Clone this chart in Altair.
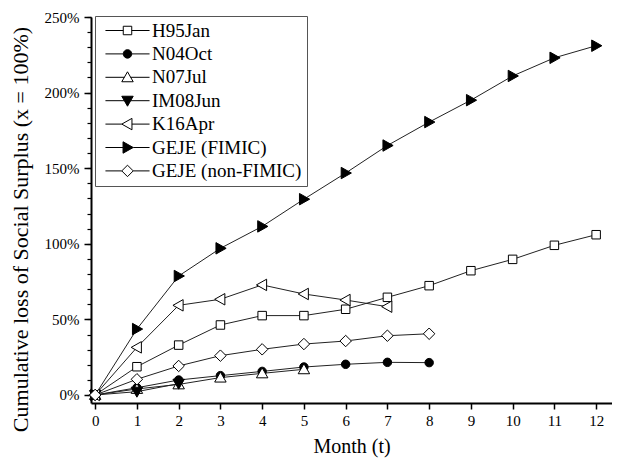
import altair as alt
import pandas as pd

series = ["H95Jan", "N04Oct", "N07Jul", "IM08Jun", "K16Apr", "GEJE (FIMIC)", "GEJE (non-FIMIC)"]
H95Jan = [0, 18.7, 33.0, 46.3, 52.5, 52.5, 56.7, 64.6, 72.3, 82.2, 89.7, 99.0, 106.0]
N04Oct = [0, 4.8, 9.9, 12.8, 15.6, 18.5, 20.3, 21.6, 21.4]
N07Jul = [0, 4.0, 7.0, 11.5, 14.3, 17.0]
IM08Jun = [0, 2.2, 7.5]
K16Apr = [0, 31.5, 59.3, 63.3, 72.8, 66.8, 62.8, 58.4]
GEJE_FIMIC = [0, 43.6, 78.7, 97.0, 111.5, 129.5, 146.8, 165.0, 180.5, 195.0, 211.0, 223.0, 231.0]
GEJE_nonFIMIC = [0, 10.4, 19.2, 26.0, 30.2, 33.7, 35.7, 39.2, 40.5]
values = [H95Jan, N04Oct, N07Jul, IM08Jun, K16Apr, GEJE_FIMIC, GEJE_nonFIMIC]
fills = ["white", "black", "white", "black", "white", "black", "white"]
y_ticks = [0, 50, 100, 150, 200, 250]
y_minor = list(range(0, 251, 10))
x_ticks = list(range(0, 13))

rows = []
for s, vals in zip(series, values):
    for t, v in enumerate(vals):
        rows.append({"series": s, "t": t, "v": v})
df = pd.DataFrame(rows)

# marker paths (unit coords) and the x-extent where the legend line meets them
markers = [
    ("M-1,-1H1V1H-1Z", -1, 1),
    ("M-1,0A1,1 0 1,0 1,0A1,1 0 1,0 -1,0Z", -1, 1),
    ("M0,-1.3L1.35,1.05H-1.35Z", -0.72, 0.72),
    ("M0,1.3L1.35,-1.05H-1.35Z", -0.72, 0.72),
    ("M-1.35,0L1.05,-1.35V1.35Z", -1.35, 1.05),
    ("M1.35,0L-1.05,-1.35V1.35Z", -1.05, 1.35),
    ("M0,-1.35L1.35,0L0,1.35L-1.35,0Z", -1.35, 1.35),
]
marker_paths = [m[0] for m in markers]
legend_paths = [f"M-5.2,0H{a} {p} M{b},0H5.2" for p, a, b in markers]

font = "Liberation Serif"
xs = alt.Scale(domain=[-0.1, 12.38], nice=False, zero=False)
ys = alt.Scale(domain=[-5.3, 250], nice=False, zero=False)

x_axis = alt.Axis(values=x_ticks, title="Month (t)", labelFont=font, labelFontSize=15,
                  titleFont=font, titleFontSize=20, titleFontWeight="normal",
                  labelColor="black", titleColor="black", domainColor="black",
                  tickColor="black", domainWidth=2, tickWidth=1.5, tickSize=6,
                  labelPadding=4, titlePadding=8, grid=False, labelFlush=False)
y_axis = alt.Axis(values=y_ticks, labelExpr="datum.value + '%'", orient="left",
                  title="Cumulative loss of Social Surplus (x = 100%)",
                  labelFont=font, labelFontSize=15, titleFont=font, titleFontSize=22,
                  titleFontWeight="normal", labelColor="black", titleColor="black",
                  domainColor="black", tickColor="black", domainWidth=2, tickWidth=1.5,
                  tickSize=7, labelPadding=5, titleX=-59, titleY=212, grid=False)
y_minor_axis = alt.Axis(values=y_minor, orient="left", labels=False, title=None,
                        domain=False, tickColor="black", tickWidth=1.2, tickSize=4, grid=False)

base = alt.Chart(df)

lines = base.mark_line(color="#222", strokeWidth=1).encode(
    x=alt.X("t:Q", scale=xs, axis=x_axis),
    y=alt.Y("v:Q", scale=ys, axis=y_minor_axis),
    detail="series:N",
    order="t:Q",
)

points = base.mark_point(size=72, stroke="black", strokeWidth=1, opacity=1, filled=False).encode(
    x=alt.X("t:Q", scale=xs, axis=None),
    y=alt.Y("v:Q", scale=ys, axis=y_axis),
    shape=alt.Shape("series:N", scale=alt.Scale(domain=series, range=marker_paths), legend=None),
    fill=alt.Fill("series:N", scale=alt.Scale(domain=series, range=fills), legend=None),
)

legend = base.transform_filter("false").mark_point(
    size=72, strokeWidth=1, opacity=1, fillOpacity=1, strokeOpacity=1, filled=False
).encode(
    x=alt.X("t:Q", scale=xs, axis=None),
    y=alt.Y("v:Q", scale=ys, axis=None),
    shape=alt.Shape("series:N", scale=alt.Scale(domain=series, range=legend_paths),
                    legend=alt.Legend(title=None, orient="none", legendX=4, legendY=-1,
                                      labelFont=font, labelFontSize=19, labelColor="black",
                                      symbolSize=72, symbolStrokeColor="black",
                                      symbolStrokeWidth=1, symbolOffset=18, labelOffset=15,
                                      symbolOpacity=1,
                                      rowPadding=3.4, padding=5, strokeColor="#555",
                                      fillColor="white", labelLimit=300)),
    fill=alt.Fill("series:N", scale=alt.Scale(domain=series, range=fills)),
    stroke=alt.Stroke("series:N", scale=alt.Scale(domain=series, range=["black"] * 7)),
)

chart = alt.layer(lines, points, legend).resolve_scale(
    shape="independent", fill="independent", stroke="independent"
).resolve_axis(x="independent", y="independent").properties(
    width=521, height=386, autosize="none",
    padding={"left": 83, "top": 9, "right": 0, "bottom": 55},
    background="white",
).configure_view(stroke=None)

chart.save("out.html", embed_options={"renderer": "svg", "actions": False})
